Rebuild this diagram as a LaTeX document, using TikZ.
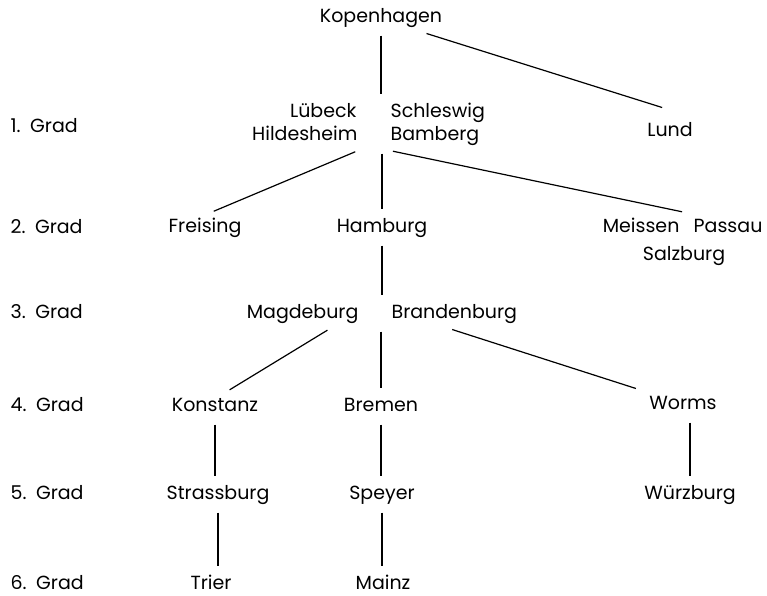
\documentclass[tikz,border=0pt]{standalone}
\usepackage{fontspec}
\setmainfont{Poppins}

\begin{document}
\begin{tikzpicture}[x=1pt,y=-1pt,line width=1.2pt,shorten >=3pt,shorten <=3pt]
  \tikzstyle{every node}=[font=\fontsize{19}{23}\selectfont,anchor=base,
    inner xsep=0pt,inner ysep=5pt,text height=14pt,text depth=5pt]
  \tikzstyle{grad}=[anchor=base west]
  \useasboundingbox (0,0) rectangle (767,595);

  % Grade links
  \foreach \n/\y in {1/132,2/233,3/318,4/411,5/499,6/589}
    \node[grad] (g_\n) at (10,\y) {\n.\enspace Grad};

  \node (kop) at (381,22) {Kopenhagen};

  \node[anchor=base east] (lueb) at (357,117) {Lübeck};
  \node[anchor=base west] (schl) at (390,117) {Schleswig};
  \node[anchor=base east] (hild) at (358,140) {Hildesheim};
  \node[anchor=base west] (bamb) at (390,140) {Bamberg};
  \node (lund) at (670,136) {Lund};

  \node (frei) at (205,232) {Freising};
  \node (hamb) at (382,232) {Hamburg};
  \node[anchor=base east] (meis) at (680,232) {Meissen};
  \node[anchor=base east] (pass) at (763,232) {Passau};
  \node (salz) at (684,260) {Salzburg};

  \node[anchor=base east] (magd) at (359,318) {Magdeburg};
  \node[anchor=base west] (bran) at (391,318) {Brandenburg};

  \node (kons) at (215,411) {Konstanz};
  \node (brem) at (381,411) {Bremen};
  \node (worm) at (683,409) {Worms};

  \node (stra) at (218,499) {Strassburg};
  \node (spey) at (382,499) {Speyer};
  \node (wuer) at (690,499) {Würzburg};

  \node (trie) at (211,589) {Trier};
  \node (main) at (383,589) {Mainz};

  \path
  (kop.south) edge (kop.south |- schl.north)
  ([xshift=-19pt]kop.south east) edge ([xshift=-5pt,yshift=8pt]lund.north)
  (hild.south east) edge ([xshift=6pt]frei.north)
  (hamb.north |- bamb.south) edge (hamb.north)
  (bamb.south west) edge ([xshift=5pt]meis.north east)
  (hamb.south) edge (hamb.south |- bran.north)
  ([xshift=-29pt]magd.south east) edge ([xshift=12pt]kons.north)
  (brem.north |- bran.south) edge (brem.north)
  ([xshift=-5pt]bran.south) edge ([xshift=-10pt]worm.north west)
  (kons.south) edge (kons.south |- stra.north)
  (brem.south) edge (brem.south |- spey.north)
  (wuer.north |- worm.south) edge (wuer.north)
  (stra.south) edge (stra.south |- trie.north)
  (spey.south) edge (spey.south |- main.north);
\end{tikzpicture}
\end{document}
